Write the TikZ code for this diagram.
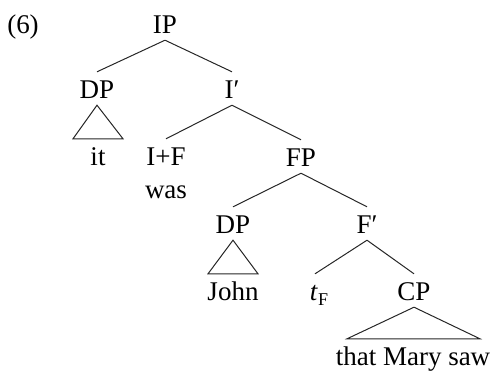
\documentclass[tikz,border=0pt]{standalone}
\usepackage{fontspec}
\setmainfont{Liberation Serif}
\begin{document}
\begin{tikzpicture}[x=1pt,y=-1pt,
  lbl/.style={anchor=base,inner xsep=0pt,inner ysep=7pt,text height=19pt,text depth=0pt,font=\fontsize{27}{30}\selectfont},
  edge/.style={draw=black!85,line width=1pt}]
\useasboundingbox (0,0) rectangle (496,376);
\node[lbl] (ex) at (23,33) {(6)};
\node[lbl] (ip) at (165,33) {IP};
\node[lbl] (dp1) at (97,98) {DP};
\node[lbl] (ibar) at (232,98) {I′};
\node[lbl] (it) at (98,165) {it};
\node[lbl] (iplusf) at (166,165) {I+F};
\node[lbl] (was) at (166,198) {was};
\node[lbl] (fp) at (301,166) {FP};
\node[lbl] (dp2) at (233,233) {DP};
\node[lbl] (fbar) at (367,233) {F′};
\node[lbl] (john) at (233,300) {John};
\node[lbl] (tf) at (319,300) {\textit{t}\raisebox{-5pt}{\fontsize{18}{18}\selectfont F}};
\node[lbl] (cp) at (414,300) {CP};
\node[lbl] (that) at (413,365) {that Mary saw};
\draw[edge] (ip.south) -- (dp1.north);
\draw[edge] (ip.south) -- (ibar.north);
\draw[edge] (dp1.south) -- ([xshift=-25pt]it.north) -- ([xshift=25pt]it.north) -- cycle;
\draw[edge] (ibar.south) -- (iplusf.north);
\draw[edge] (ibar.south) -- (fp.north);
\draw[edge] (fp.south) -- (dp2.north);
\draw[edge] (fp.south) -- (fbar.north);
\draw[edge] (dp2.south) -- ([xshift=-25pt]john.north) -- ([xshift=25pt]john.north) -- cycle;
\draw[edge] (fbar.south) -- ([xshift=-4pt]tf.north);
\draw[edge] (fbar.south) -- (cp.north);
\draw[edge] (cp.south) -- ([xshift=-66pt]that.north) -- ([xshift=67pt]that.north) -- cycle;
\end{tikzpicture}
\end{document}
